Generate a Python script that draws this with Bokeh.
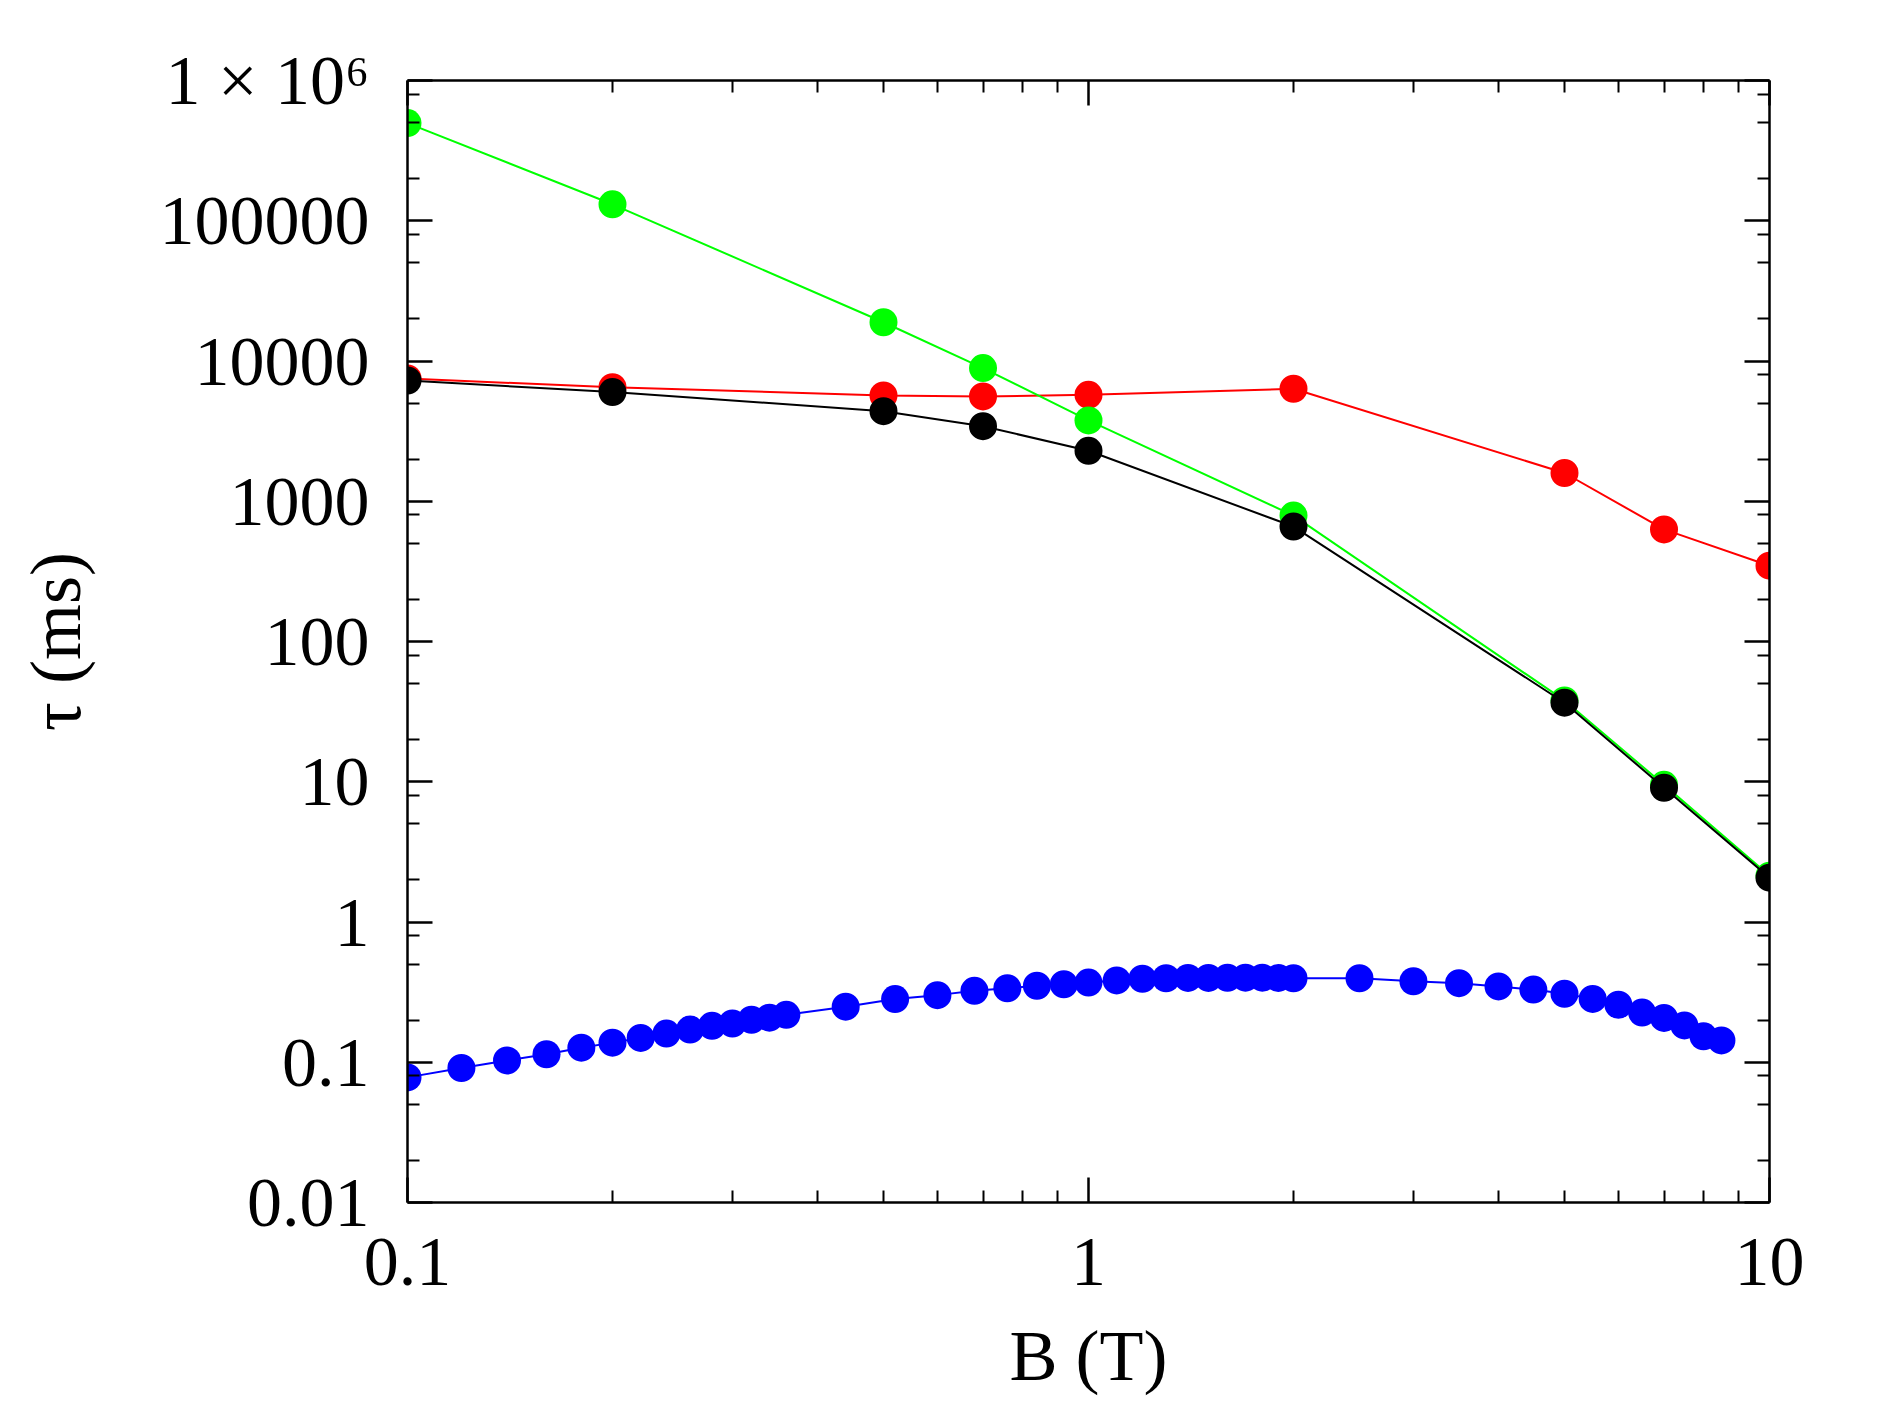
from bokeh.plotting import figure
from bokeh.models import FixedTicker, CustomJSTickFormatter, LogAxis, Range1d
from bokeh.embed import file_html
from bokeh.resources import INLINE

# ---------------- data ----------------
B_main = [0.1, 0.2, 0.5, 0.7, 1.0, 2.0, 5.0, 7.0, 10.0]
tau_green = [4.97e5, 1.31e5, 1.89e4, 8900, 3770, 790, 38, 9.5, 2.14]
tau_red = [7500, 6500, 5680, 5590, 5740, 6340, 1590, 630, 347]
tau_black = [7260, 6000, 4390, 3430, 2290, 660, 36.6, 9.06, 2.07]

B_blue = [0.1, 0.12, 0.14, 0.16, 0.18, 0.2, 0.22, 0.24, 0.26, 0.28, 0.30, 0.32, 0.34, 0.36,
          0.44, 0.52, 0.60, 0.68, 0.76, 0.84, 0.92, 1.0,
          1.1, 1.2, 1.3, 1.4, 1.5, 1.6, 1.7, 1.8, 1.9, 2.0,
          2.5, 3.0, 3.5, 4.0, 4.5, 5.0, 5.5, 6.0, 6.5, 7.0, 7.5, 8.0, 8.5]
tau_blue = [0.078, 0.091, 0.103, 0.114, 0.127, 0.138, 0.149, 0.160, 0.171, 0.182, 0.189, 0.201, 0.208, 0.218,
            0.249, 0.282, 0.301, 0.323, 0.337, 0.351, 0.360, 0.370,
            0.383, 0.394, 0.397, 0.399, 0.399, 0.400, 0.401, 0.401, 0.399, 0.397,
            0.397, 0.378, 0.366, 0.347, 0.330, 0.308, 0.283, 0.257, 0.226, 0.207, 0.183, 0.153, 0.143]

x_ticks = [0.1, 1.0, 10.0]
x_tick_labels = ["0.1", "1", "10"]
x_minor = [0.2, 0.3, 0.4, 0.5, 0.6, 0.7, 0.8, 0.9, 2, 3, 4, 5, 6, 7, 8, 9]
y_ticks = [1e-2, 1e-1, 1, 10, 100, 1000, 1e4, 1e5, 1e6]
y_tick_labels = ["0.01", "0.1", "1", "10", "100", "1000", "10000", "100000", "1 × 10⁶"]
y_minor = [m * 10.0 ** k for k in range(-2, 6) for m in (2, 5, 8)]

x_title = "B (T)"
y_title = "τ (ms)"

FONT = "Liberation Serif"
FS = "70px"
TFS = "72px"

p = figure(x_axis_type="log", y_axis_type="log",
           x_range=Range1d(0.1, 10), y_range=Range1d(0.01, 1e6),
           frame_width=1362, frame_height=1122,
           min_border_left=407, min_border_right=105,
           min_border_top=80, min_border_bottom=197,
           output_backend="svg", toolbar_location=None,
           background_fill_color="white", border_fill_color="white")
p.outline_line_color = None
p.xgrid.visible = False
p.ygrid.visible = False

fmt_code = """
const lt = Math.log10(tick);
for (let i = 0; i < tk.length; i++) {
  if (Math.abs(Math.log10(tk[i]) - lt) < 1e-6) return lbl[i];
}
return '';
"""
xt = FixedTicker(ticks=x_ticks, minor_ticks=x_minor)
yt = FixedTicker(ticks=y_ticks, minor_ticks=y_minor)

def style(ax):
    ax.axis_line_width = 2.5
    ax.axis_line_color = "black"
    ax.major_tick_in = 25
    ax.major_tick_out = 0
    ax.minor_tick_in = 12
    ax.minor_tick_out = 0
    ax.major_tick_line_width = 2.5
    ax.minor_tick_line_width = 2
    ax.major_tick_line_color = "black"
    ax.minor_tick_line_color = "black"
    ax.major_label_text_font = FONT
    ax.major_label_text_font_size = FS
    ax.major_label_text_color = "black"
    ax.axis_label_text_font = FONT
    ax.axis_label_text_font_size = TFS
    ax.axis_label_text_font_style = "normal"
    ax.axis_label_text_color = "black"

xa = p.xaxis[0]
xa.ticker = xt
xa.formatter = CustomJSTickFormatter(args=dict(tk=x_ticks, lbl=x_tick_labels), code=fmt_code)
style(xa)
xa.major_label_standoff = 36
xa.axis_label = x_title
xa.axis_label_standoff = 28

ya = p.yaxis[0]
ya.ticker = yt
ya.formatter = CustomJSTickFormatter(args=dict(tk=y_ticks, lbl=y_tick_labels), code=fmt_code)
style(ya)
ya.major_label_standoff = 38
ya.axis_label = y_title
ya.axis_label_standoff = 61

blank = "return '';"
top = LogAxis(ticker=xt, formatter=CustomJSTickFormatter(code=blank))
style(top)
top.major_label_text_font_size = "1px"
top.major_label_standoff = 0
p.add_layout(top, "above")
right = LogAxis(ticker=yt, formatter=CustomJSTickFormatter(code=blank))
style(right)
right.major_label_text_font_size = "1px"
right.major_label_standoff = 0
p.add_layout(right, "right")

MS = 28
LW = 2
p.line(B_blue, tau_blue, line_color="#0000ff", line_width=LW)
p.scatter(B_blue, tau_blue, size=MS, fill_color="#0000ff", line_color=None)
p.line(B_main, tau_red, line_color="#ff0000", line_width=LW)
p.scatter(B_main, tau_red, size=MS, fill_color="#ff0000", line_color=None)
p.line(B_main, tau_green, line_color="#00ff00", line_width=LW)
p.scatter(B_main, tau_green, size=MS, fill_color="#00ff00", line_color=None)
p.line(B_main, tau_black, line_color="black", line_width=LW)
p.scatter(B_main, tau_black, size=MS, fill_color="black", line_color=None)

open("out.html", "w").write(file_html(p, INLINE))
